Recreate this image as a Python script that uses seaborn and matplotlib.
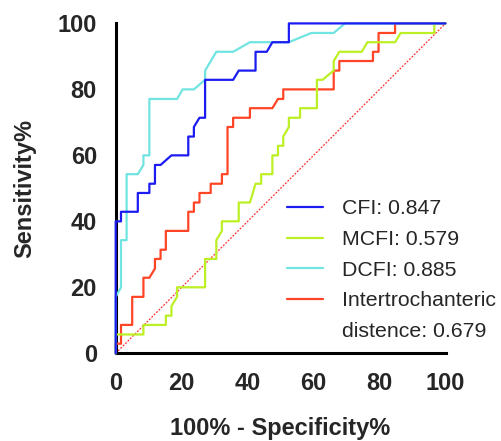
import numpy as np
import pandas as pd
import matplotlib
matplotlib.use('Agg')
import matplotlib.pyplot as plt
from matplotlib.lines import Line2D
import seaborn as sns

# ROC curves (x = 100% - specificity, y = sensitivity)
cfi_x = [0, 0, 1.6, 1.6, 6.7, 6.7, 10.2, 10.2, 11.9, 11.9, 13.6, 16.9, 22.0, 22.0, 23.7, 23.7,
         25.4, 27.1, 27.1, 35.6, 37.3, 42.4, 42.4, 45.8, 47.5, 52.5, 52.5, 100]
cfi_y = [0, 40.0, 40.0, 42.9, 42.9, 48.6, 48.6, 51.4, 51.4, 57.1, 57.1, 60.0, 60.0, 65.7, 65.7, 68.6,
         71.4, 71.4, 82.9, 82.9, 85.7, 85.7, 91.4, 91.4, 94.3, 94.3, 100, 100]

mcfi_x = [0, 0, 8.4, 8.4, 15.2, 15.2, 16.9, 16.9, 18.6, 18.6, 27.1, 27.1, 30.5, 30.5, 32.2, 32.2,
          37.3, 37.3, 40.7, 42.4, 44.1, 44.1, 47.5, 47.5, 49.2, 49.2, 50.8, 50.8, 52.5, 52.5,
          55.9, 55.9, 61.0, 61.0, 62.7, 66.1, 66.1, 67.8, 74.6, 76.3, 84.7, 86.4, 96.6, 96.6, 100]
mcfi_y = [0, 5.7, 5.7, 8.6, 8.6, 11.4, 11.4, 14.3, 17.1, 20.0, 20.0, 28.6, 28.6, 34.3, 37.1, 40.0,
          40.0, 45.7, 45.7, 51.4, 51.4, 54.3, 54.3, 60.0, 60.0, 62.9, 62.9, 65.7, 68.6, 71.4,
          71.4, 74.3, 74.3, 82.9, 82.9, 85.7, 88.6, 91.4, 91.4, 94.3, 94.3, 97.1, 97.1, 100, 100]

dcfi_x = [0, 0, 1.6, 1.6, 3.3, 3.3, 6.7, 8.4, 8.4, 10.2, 10.2, 18.6, 20.3, 23.7, 27.1, 27.1,
          30.5, 35.6, 40.7, 52.5, 59.3, 66.1, 69.5, 100]
dcfi_y = [0, 17.1, 20.0, 34.3, 34.3, 54.3, 54.3, 57.1, 60.0, 60.0, 77.1, 77.1, 80.0, 80.0, 82.9, 85.7,
          91.4, 91.4, 94.3, 94.3, 97.1, 97.1, 100, 100]

itd_x = [0, 0, 1.6, 1.6, 5.0, 5.0, 8.4, 8.4, 10.2, 11.9, 11.9, 13.6, 13.6, 15.2, 15.2, 22.0, 22.0,
         23.7, 23.7, 25.4, 25.4, 28.8, 28.8, 32.2, 32.2, 33.9, 33.9, 35.6, 35.6, 40.7, 40.7, 47.5,
         49.2, 50.8, 50.8, 66.1, 66.1, 67.8, 67.8, 78.0, 78.0, 79.7, 79.7, 84.7, 84.7, 100]
itd_y = [0, 2.9, 2.9, 8.6, 8.6, 17.1, 17.1, 22.9, 22.9, 25.7, 28.6, 28.6, 31.4, 31.4, 37.1, 37.1, 42.9,
         42.9, 45.7, 45.7, 48.6, 48.6, 51.4, 51.4, 54.3, 54.3, 68.6, 68.6, 71.4, 71.4, 74.3, 74.3,
         77.1, 77.1, 80.0, 80.0, 85.7, 85.7, 88.6, 88.6, 91.4, 91.4, 97.1, 97.1, 100, 100]

labels = ['CFI: 0.847', 'MCFI: 0.579', 'DCFI: 0.885', 'Intertrochanteric']
label_extra = 'distence: 0.679'
colors = ['#1c1cf2', '#bdf024', '#70e4e0', '#ff4526']
ref_line = [0, 100]
ticks = [0, 20, 40, 60, 80, 100]

sns.set_style('white')
plt.rcParams['font.family'] = ['Liberation Sans', 'DejaVu Sans']

fig = plt.figure(figsize=(5.02, 4.41), dpi=100)
ax = fig.add_axes([0.2305, 0.1989, 0.657, 0.748])

sns.lineplot(x=ref_line, y=ref_line, ax=ax, color='#ff3030', lw=0.9,
             linestyle=(0, (1.5, 1.2)), sort=False, estimator=None)

curves = [(itd_x, itd_y, 3), (mcfi_x, mcfi_y, 1), (dcfi_x, dcfi_y, 2), (cfi_x, cfi_y, 0)]
for xs, ys, i in curves:
    df = pd.DataFrame({'x': xs, 'y': ys})
    sns.lineplot(data=df, x='x', y='y', ax=ax, color=colors[i], lw=1.6,
                 sort=False, estimator=None, clip_on=False, zorder=5)

ax.set_xlim(0, 100)
ax.set_ylim(0, 100)
ax.set_xticks(ticks)
ax.set_yticks(ticks)
ax.set_xticklabels([str(t) for t in ticks], fontsize=17, fontweight='bold')
ax.set_yticklabels([str(t) for t in ticks], fontsize=17, fontweight='bold')
ax.tick_params(axis='both', length=9.5, width=2.2, direction='out', pad=4, color='black')
sns.despine(ax=ax)
for s in ['left', 'bottom']:
    ax.spines[s].set_linewidth(2.2)
    ax.spines[s].set_color('black')
ax.grid(False)

ax.set_xlabel('100% - Specificity%', fontsize=17, fontweight='bold', labelpad=16)
ax.set_ylabel('Sensitivity%', fontsize=17, fontweight='bold', labelpad=15)

handles = [Line2D([], [], color=c, lw=1.6) for c in colors]
handles.append(Line2D([], [], color='none', lw=0))
ax.legend(handles, labels + [label_extra], loc='upper left',
          bbox_to_anchor=(0.572, 0.548), bbox_transform=fig.transFigure,
          frameon=False, fontsize=15.3, borderpad=0, borderaxespad=0,
          handlelength=1.67, handletextpad=0.93, labelspacing=0.55)

fig.savefig('out.png', dpi=100)
